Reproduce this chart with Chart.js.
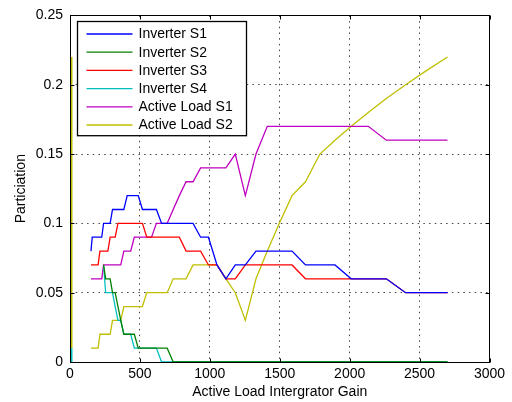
<!DOCTYPE html>
<html>
<head>
<meta charset="utf-8">
<script src="https://cdn.jsdelivr.net/npm/chart.js@4.4.1/dist/chart.umd.min.js"></script>
<style>
  html, body { margin: 0; padding: 0; background: #fff; }
  #chart { display: block; }
</style>
</head>
<body>
<canvas id="chart" width="512" height="402"></canvas>
<script>
// integrator gain at each sample (x axis)
const gains = [150, 159, 169, 179, 190, 201, 214, 227, 240, 255,
               271, 287, 304, 323, 343, 363, 385, 409, 434, 460,
               488, 518, 549, 583, 618, 655, 695, 738, 782, 830,
               880, 934, 990, 1051, 1115, 1182, 1254, 1330, 1411, 1497,
               1588, 1684, 1787, 1895, 2011, 2133, 2262, 2400, 2546, 2700];

const inverterS1 = [0.08, 0.09, 0.09, 0.09, 0.09, 0.09, 0.09, 0.09, 0.10, 0.10,
                    0.10, 0.10, 0.11, 0.11, 0.11, 0.11, 0.11, 0.12, 0.12, 0.12,
                    0.12, 0.11, 0.11, 0.11, 0.11, 0.10, 0.10, 0.10, 0.10, 0.10,
                    0.10, 0.09, 0.09, 0.07, 0.06, 0.07, 0.07, 0.08, 0.08, 0.08,
                    0.08, 0.07, 0.07, 0.07, 0.06, 0.06, 0.06, 0.05, 0.05, 0.05];

const inverterS2 = [null, null, null, null, null, null, null, null, 0.07, 0.06,
                    0.06, 0.06, 0.05, 0.05, 0.04, 0.03, 0.02, 0.02, 0.02, 0.02,
                    0.01, 0.01, 0.01, 0.01, 0.01, 0.01, 0.01, 0, 0, 0,
                    0, 0, 0, 0, 0, 0, 0, 0, 0, 0,
                    0, 0, 0, 0, 0, 0, 0, 0, 0, 0];

const inverterS3 = [0.07, 0.07, 0.07, 0.07, 0.07, 0.07, 0.08, 0.08, 0.08, 0.08,
                    0.08, 0.09, 0.09, 0.09, 0.10, 0.10, 0.10, 0.10, 0.10, 0.10,
                    0.10, 0.10, 0.09, 0.09, 0.09, 0.09, 0.09, 0.09, 0.09, 0.08,
                    0.08, 0.08, 0.07, 0.07, 0.06, 0.06, 0.07, 0.07, 0.07, 0.07,
                    0.07, 0.06, 0.06, 0.06, 0.06, 0.06, 0.06, 0.05, 0.05, 0.05];

const inverterS4 = [null, null, null, null, null, null, null, null, 0.07, 0.05,
                    0.05, 0.05, 0.05, 0.04, 0.03, 0.03, 0.02, 0.02, 0.02, 0.01,
                    0.01, 0.01, 0.01, 0.01, 0.01, 0, 0, 0, 0, 0,
                    0, 0, 0, 0, 0, 0, 0, 0, 0, 0,
                    0, 0, 0, 0, 0, 0, 0, 0, 0, 0];

const activeLoadS1 = [0.06, 0.06, 0.06, 0.06, 0.06, 0.06, 0.06, 0.06, 0.07, 0.07,
                      0.07, 0.07, 0.07, 0.07, 0.07, 0.07, 0.08, 0.08, 0.08, 0.09,
                      0.09, 0.09, 0.09, 0.09, 0.10, 0.10, 0.10, 0.11, 0.12, 0.13,
                      0.13, 0.14, 0.14, 0.14, 0.14, 0.15, 0.12, 0.15, 0.17, 0.17,
                      0.17, 0.17, 0.17, 0.17, 0.17, 0.17, 0.16, 0.16, 0.16, 0.16];

const activeLoadS2 = [0.01, 0.01, 0.01, 0.01, 0.01, 0.01, 0.02, 0.02, 0.02, 0.02,
                      0.02, 0.02, 0.03, 0.03, 0.03, 0.03, 0.04, 0.04, 0.04, 0.04,
                      0.04, 0.04, 0.05, 0.05, 0.05, 0.05, 0.05, 0.06, 0.06, 0.06,
                      0.07, 0.07, 0.07, 0.07, 0.06, 0.05, 0.03, 0.06, 0.08, 0.10,
                      0.12, 0.13, 0.15, 0.16, 0.17, 0.18, 0.19, 0.20, 0.21, 0.22];

// short vertical strokes sitting on the y axis at gain 0
const loadS2AtZero = [0.01, 0.22];
const inverterS4AtZero = [0, 0.01];

const seriesNames = ['Inverter S1', 'Inverter S2', 'Inverter S3', 'Inverter S4', 'Active Load S1', 'Active Load S2'];
const seriesValues = [inverterS1, inverterS2, inverterS3, inverterS4, activeLoadS1, activeLoadS2];
const seriesColors = ['#0000ff', '#008000', '#ff0000', '#00bfbf', '#bf00bf', '#bfbf00'];

const xMin = 0, xMax = 3000, xStep = 500;
const yMin = 0, yMax = 0.25, yStep = 0.05;

const FONT = "'Liberation Sans', Arial, Helvetica, sans-serif";

function toPoints(values) {
    return gains.map((g, i) => ({x: g, y: values[i]})).filter(p => p.y !== null);
}

const datasets = seriesNames.map((name, i) => ({
    label: name,
    data: toPoints(seriesValues[i]),
    borderColor: seriesColors[i],
    borderWidth: 1.3,
    pointRadius: 0,
    tension: 0,
    fill: false
}));

// these sit right on the axis line, so widen them and clip to the plot box
datasets.push({
    label: 'stub-cyan',
    inLegend: false,
    data: inverterS4AtZero.map(v => ({x: 0, y: v})),
    borderColor: seriesColors[3], borderWidth: 5, pointRadius: 0, fill: false, clip: 0
});
datasets.push({
    label: 'stub-yellow',
    inLegend: false,
    data: loadS2AtZero.map(v => ({x: 0, y: v})),
    borderColor: seriesColors[5], borderWidth: 5, pointRadius: 0, fill: false, clip: 0
});

// axes box, inward ticks and the boxed legend, matlab style
const matlabFrame = {
    id: 'matlabFrame',
    afterDatasetsDraw(chart) {
        const {ctx, chartArea, scales} = chart;
        const L = Math.floor(chartArea.left) + 0.5;
        const R = Math.floor(chartArea.right) + 0.5;
        const T = Math.floor(chartArea.top) + 0.5;
        const B = Math.floor(chartArea.bottom) + 0.5;
        const tick = 4;

        ctx.save();
        ctx.strokeStyle = '#000';
        ctx.lineWidth = 1;
        ctx.setLineDash([]);
        ctx.strokeRect(L, T, R - L, B - T);

        ctx.beginPath();
        scales.x.ticks.forEach(t => {
            const px = Math.round(scales.x.getPixelForValue(t.value)) + 0.5;
            ctx.moveTo(px, B); ctx.lineTo(px, B - tick);
            ctx.moveTo(px, T); ctx.lineTo(px, T + tick);
        });
        scales.y.ticks.forEach(t => {
            const py = Math.round(scales.y.getPixelForValue(t.value)) + 0.5;
            ctx.moveTo(L, py); ctx.lineTo(L + tick, py);
            ctx.moveTo(R, py); ctx.lineTo(R - tick, py);
        });
        ctx.stroke();

        // legend
        const items = chart.data.datasets.filter(d => d.inLegend !== false);
        const lx = L + 7, ly = T + 6;
        const lw = 169, rowH = 18.2;
        const lh = rowH * items.length + 5;
        ctx.fillStyle = '#fff';
        ctx.fillRect(lx, ly, lw, lh);
        ctx.strokeStyle = '#000';
        ctx.lineWidth = 1.3;
        ctx.strokeRect(lx, ly, lw, lh);

        ctx.font = '14px ' + FONT;
        ctx.textBaseline = 'middle';
        ctx.textAlign = 'left';
        items.forEach((d, i) => {
            const y = ly + 12.5 + i * rowH;
            ctx.strokeStyle = d.borderColor;
            ctx.lineWidth = 1.3;
            ctx.beginPath();
            ctx.moveTo(lx + 9, y);
            ctx.lineTo(lx + 55, y);
            ctx.stroke();
            ctx.fillStyle = '#000';
            ctx.fillText(d.label, lx + 61, y + 0.5);
        });
        ctx.restore();
    }
};

const gridStyle = {
    color: '#444',
    lineWidth: 1,
    drawTicks: false
};

new Chart(document.getElementById('chart'), {
    type: 'line',
    data: {datasets: datasets},
    plugins: [matlabFrame],
    options: {
        responsive: false,
        animation: false,
        devicePixelRatio: 1,
        layout: {padding: {left: 0, right: 22.5, top: 10, bottom: 0}},
        plugins: {
            legend: {display: false},
            tooltip: {enabled: false}
        },
        scales: {
            x: {
                type: 'linear',
                min: xMin,
                max: xMax,
                afterFit: s => { s.height = 40; },
                ticks: {
                    stepSize: xStep,
                    padding: 4,
                    color: '#000',
                    font: {family: FONT, size: 14},
                    maxRotation: 0,
                    callback: v => String(v)
                },
                grid: gridStyle,
                border: {display: false, dash: [1.5, 4.2]},
                title: {
                    display: true,
                    text: 'Active Load Intergrator Gain',
                    color: '#000',
                    font: {family: FONT, size: 14},
                    padding: {top: 0, bottom: 1}
                }
            },
            y: {
                type: 'linear',
                min: yMin,
                max: yMax,
                afterFit: s => { s.width = 70; },
                ticks: {
                    stepSize: yStep,
                    padding: 7,
                    color: '#000',
                    font: {family: FONT, size: 14},
                    callback: v => String(+v.toFixed(2))
                },
                grid: gridStyle,
                border: {display: false, dash: [1.5, 4.2]},
                title: {
                    display: true,
                    text: 'Particiation',
                    color: '#000',
                    font: {family: FONT, size: 14},
                    padding: {top: 13, bottom: 0}
                }
            }
        }
    }
});
</script>
</body>
</html>
